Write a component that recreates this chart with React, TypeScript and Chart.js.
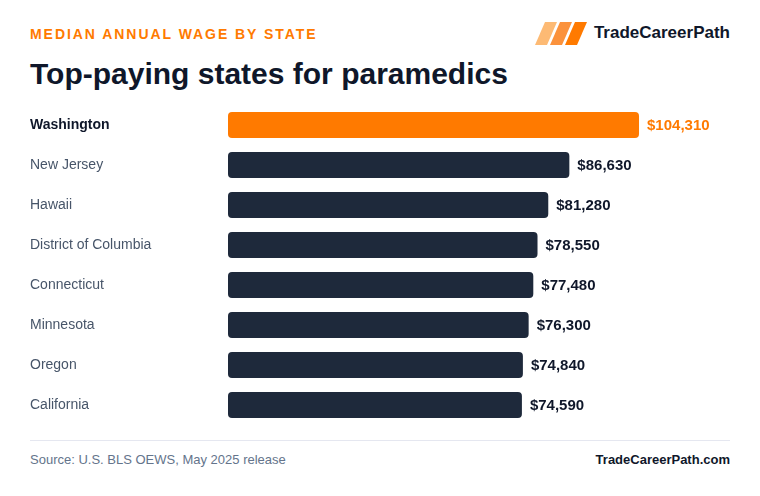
import React, { useEffect, useRef } from "react";
import { Chart, registerables } from "chart.js";

Chart.register(...registerables);

const states = [
  "Washington",
  "New Jersey",
  "Hawaii",
  "District of Columbia",
  "Connecticut",
  "Minnesota",
  "Oregon",
  "California",
];
const wages = [104310, 86630, 81280, 78550, 77480, 76300, 74840, 74590];
const highlightIndex = 0;

const ORANGE = "#ff7a00";
const NAVY = "#1e293b";
const DARK = "#0f172a";
const GREY = "#475569";
const FONT = "'Liberation Sans', Arial, Helvetica, sans-serif";

const fmt = (v: number) => "$" + v.toLocaleString("en-US");

const valueLabels = {
  id: "valueLabels",
  afterDatasetsDraw(chart: any) {
    const { ctx } = chart;
    const meta = chart.getDatasetMeta(0);
    ctx.save();
    ctx.font = `bold 15px ${FONT}`;
    ctx.textBaseline = "middle";
    ctx.textAlign = "left";
    meta.data.forEach((bar: any, i: number) => {
      ctx.fillStyle = i === highlightIndex ? ORANGE : DARK;
      ctx.fillText(fmt(wages[i]), bar.x + 8, bar.y + 1);
    });
    ctx.restore();
  },
};

export default function App() {
  const ref = useRef<HTMLCanvasElement>(null);
  useEffect(() => {
    document.body.style.margin = "0";
    const chart = new Chart(ref.current!, {
      type: "bar",
      data: {
        labels: states,
        datasets: [
          {
            data: wages,
            backgroundColor: wages.map((_, i) => (i === highlightIndex ? ORANGE : NAVY)),
            borderRadius: 4,
            borderSkipped: false,
            barPercentage: 0.65,
            categoryPercentage: 1,
          },
        ],
      },
      options: {
        indexAxis: "y",
        animation: false,
        responsive: false,
        maintainAspectRatio: false,
        layout: { padding: { left: 30, right: 30, top: 12, bottom: 12 } },
        plugins: { legend: { display: false }, tooltip: { enabled: false } },
        scales: {
          x: { display: false, min: 0, max: 127400 },
          y: {
            grid: { display: false },
            border: { display: false },
            afterFit: (s: any) => {
              s.width = 198;
            },
            ticks: {
              crossAlign: "far",
              padding: 0,
              color: (c: any) => (c.index === highlightIndex ? DARK : GREY),
              font: (c: any) => ({
                family: FONT,
                size: 14,
                weight: c.index === highlightIndex ? "bold" : "normal",
              }),
            },
          },
        },
      },
      plugins: [valueLabels],
    } as any);
    return () => chart.destroy();
  }, []);

  return (
    <div
      style={{
        position: "relative",
        width: 760,
        height: 496,
        background: "#ffffff",
        fontFamily: FONT,
        overflow: "hidden",
      }}
    >
      <div
        style={{
          position: "absolute",
          left: 30,
          top: 26,
          fontSize: 14,
          fontWeight: "bold",
          letterSpacing: 1.95,
          color: ORANGE,
          lineHeight: "16px",
        }}
      >
        MEDIAN ANNUAL WAGE BY STATE
      </div>
      <div
        style={{
          position: "absolute",
          left: 30,
          top: 56,
          fontSize: 30,
          fontWeight: "bold",
          color: DARK,
          lineHeight: "36px",
        }}
      >
        Top-paying states for paramedics
      </div>
      <svg
        style={{ position: "absolute", left: 535, top: 22 }}
        width={52}
        height={23}
        viewBox="0 0 52 23"
      >
        <polygon points="10,0 22,0 12,23 0,23" fill="#fdba74" />
        <polygon points="25,0 37,0 27,23 15,23" fill="#fb923c" />
        <polygon points="40,0 52,0 42,23 30,23" fill="#ff7a00" />
      </svg>
      <div
        style={{
          position: "absolute",
          right: 30,
          top: 23,
          fontSize: 17,
          fontWeight: "bold",
          color: DARK,
          lineHeight: "20px",
        }}
      >
        TradeCareerPath
      </div>
      <canvas
        ref={ref}
        width={760}
        height={344}
        style={{ position: "absolute", left: 0, top: 93, width: 760, height: 344 }}
      />
      <div
        style={{
          position: "absolute",
          left: 30,
          top: 440,
          width: 700,
          height: 1,
          background: "#e5e7f0",
        }}
      />
      <div
        style={{
          position: "absolute",
          left: 30,
          top: 452,
          fontSize: 13,
          color: "#64748b",
          lineHeight: "16px",
        }}
      >
        Source: U.S. BLS OEWS, May 2025 release
      </div>
      <div
        style={{
          position: "absolute",
          right: 30,
          top: 452,
          fontSize: 13,
          fontWeight: "bold",
          color: DARK,
          lineHeight: "16px",
        }}
      >
        TradeCareerPath.com
      </div>
    </div>
  );
}
